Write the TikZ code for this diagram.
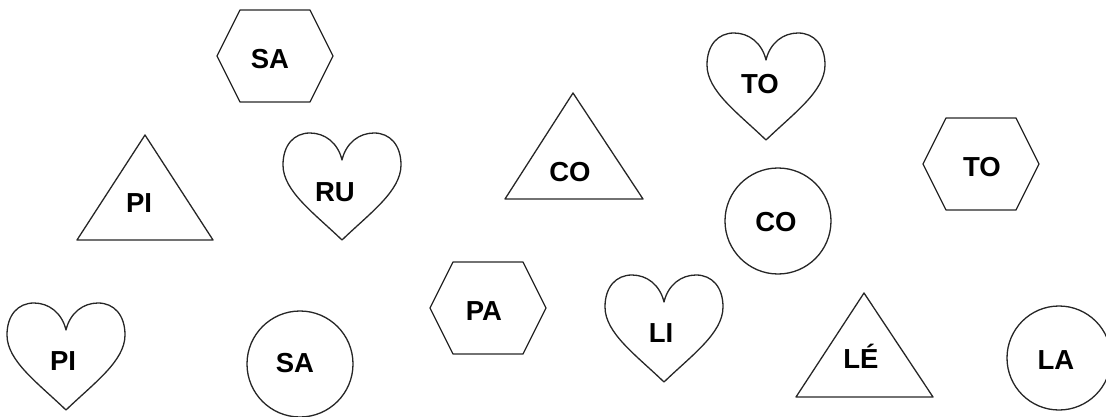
\documentclass[tikz,border=0pt]{standalone}
\usepackage{fontspec}
\setmainfont{Liberation Sans}
\begin{document}
\begin{tikzpicture}[x=1pt,y=-1pt,
  shapeline/.style={draw=black!85,line width=1.3pt,line join=round},
  lbl/.style={anchor=base,inner sep=0pt,font=\fontsize{27.5}{30}\selectfont\bfseries,text=black},
  heartpic/.pic={\draw[shapeline] (0,27) .. controls (4,10) and (17,0) .. (32,0)
      .. controls (48,0) and (59,12) .. (59,32)
      .. controls (59,58) and (28,80) .. (0,107)
      .. controls (-28,80) and (-59,58) .. (-59,32)
      .. controls (-59,12) and (-48,0) .. (-32,0)
      .. controls (-17,0) and (-4,10) .. (0,27) -- cycle;},
  hexpic/.pic={\draw[shapeline] (-58,0) -- (-35,-46) -- (35,-46) -- (58,0) -- (35,46) -- (-35,46) -- cycle;}
]
\useasboundingbox (0,0) rectangle (1106,417);

% hexagons
\pic at (275,56) {hexpic};
\pic at (981,164) {hexpic};
\pic at (488,308) {hexpic};

% hearts
\pic at (342,133) {heartpic};
\pic at (66,303) {heartpic};
\pic at (766,33) {heartpic};
\pic at (664,275) {heartpic};

% triangles
\draw[shapeline] (145,135) -- (77,240) -- (213,240) -- cycle;
\draw[shapeline] (573,93) -- (505,199) -- (643,199) -- cycle;
\draw[shapeline] (864,293) -- (796,397) -- (933,397) -- cycle;

% circles
\draw[shapeline] (778,221) circle[radius=53];
\draw[shapeline] (300,364) circle[radius=53];
\draw[shapeline] (1059,358) circle[radius=52];

% labels
\node[lbl] (saHex) at (270,69) {SA};
\node[lbl] (ruHeart) at (335,201) {RU};
\node[lbl] (piTri) at (139,212) {PI};
\node[lbl] (piHeart) at (63,370) {PI};
\node[lbl] (toHeart) at (760,94) {TO};
\node[lbl] (toHex) at (982,176) {TO};
\node[lbl] (coCirc) at (776,231) {CO};
\node[lbl] (coTri) at (570,182) {CO};
\node[lbl] (paHex) at (484,320) {PA};
\node[lbl] (liHeart) at (661,342) {LI};
\node[lbl] (leTri) at (861,368) {LÉ};
\node[lbl] (laCirc) at (1056,369) {LA};
\node[lbl] (saCirc) at (295,372) {SA};
\end{tikzpicture}
\end{document}
